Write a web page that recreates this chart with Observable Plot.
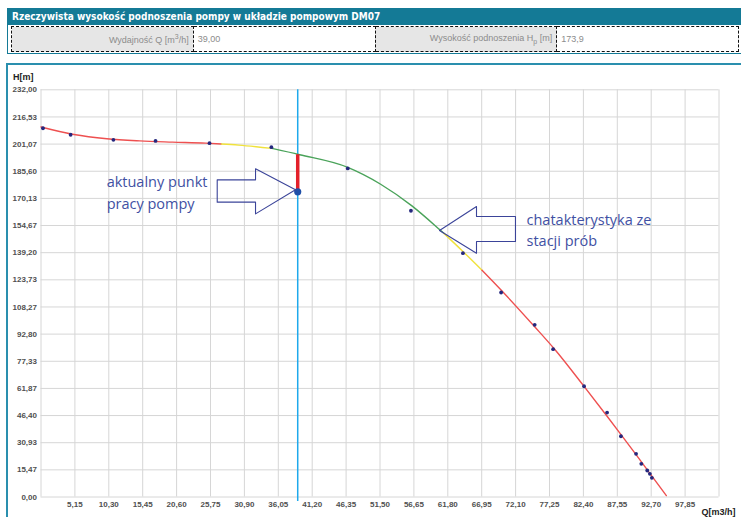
<!DOCTYPE html>
<html><head><meta charset="utf-8">
<script src="https://cdn.jsdelivr.net/npm/d3@7"></script>
<script src="https://cdn.jsdelivr.net/npm/@observablehq/plot@0.6"></script>
<style>
body{margin:0;width:741px;height:517px;overflow:hidden;background:#fff;position:relative;font-family:"Liberation Sans",Arial,sans-serif}
#bar{position:absolute;left:7px;top:8px;width:734px;height:17px;background:#147a96;color:#fff;font-weight:bold;font-size:10px;font-family:"Liberation Sans Narrow","DejaVu Sans Condensed","Liberation Sans",sans-serif;line-height:17px;padding-left:5px;box-sizing:border-box;white-space:nowrap}
#info{position:absolute;left:7px;top:25px;width:734px;height:29px;border-left:1px solid #147a96;border-bottom:1.5px solid #147a96;box-sizing:border-box}
#info table{position:absolute;left:3px;top:1px;width:728px;height:26px;border-collapse:collapse;table-layout:fixed}
#info td{border:1.5px dashed #111;font-size:9px;color:#8c8c8c;padding:0 4px;white-space:nowrap}
#info td.l{background:#e6e6e6;text-align:right}
#info sup,#info sub{font-size:7px}
#panel{position:absolute;left:6px;top:63px;width:745px;height:470px;border:2px solid #2a8fae;box-sizing:border-box}
#chart{position:absolute;left:0;top:64px}
</style></head>
<body>
<div id="bar">Rzeczywista wysokość podnoszenia pompy w układzie pompowym DM07</div>
<div id="info"><table><tr>
<td class="l">Wydajność Q [m<sup>3</sup>/h]</td><td>39,00</td>
<td class="l">Wysokość podnoszenia H<sub>p</sub> [m]</td><td>173,9</td>
</tr></table></div>
<div id="panel"></div>
<div id="chart"></div>
<script>
// tick labels
const xTickLabels = ["5,15","10,30","15,45","20,60","25,75","30,90","36,05","41,20","46,35","51,50","56,65","61,80","66,95","72,10","77,25","82,40","87,55","92,70","97,85"];
const yTickLabels = ["0,00","15,47","30,93","46,40","61,87","77,33","92,80","108,27","123,73","139,20","154,67","170,13","185,60","201,07","216,53","232,00"];
const xMax = 103;
const yMax = 232;

// measured points (Q [m3/h], H [m])
const measQ = [0.3,4.5,11.0,17.4,25.6,35.0,46.6,56.2,64.1,69.9,75.0,77.8,82.5,86.0,88.1,90.4,91.2,92.1,92.5,92.8];
const measH = [210.1,206.4,203.5,202.9,201.6,199.3,187.2,163.1,138.9,116.5,98.1,84.2,63.1,48.1,34.6,24.6,18.9,15.1,13.2,10.9];

// characteristic curve
const curveQ = [0,5,10,15,20,25,27.4,30,35.1,39.3,46.6,51.6,56.3,60.6,61.2,64.1,67,70,75,78,82.5,86,88,90.4,92.5,95];
const curveH = [210.8,206.5,204.1,202.9,202.2,201.6,201.1,200.5,198.6,195.0,187.8,178.2,166.0,152.2,150.2,139.9,129.2,117.5,97.0,84.3,63.0,46.0,36.1,24.1,13.5,0.8];
// colour bands along the curve
const bandFrom = [0,27.4,35.1,61.2,67];
const bandTo   = [27.4,35.1,61.2,67,95];
const bandColor = ["#ee5050","#f0e23c","#4aa35a","#f0e23c","#ee5050"];

// operating point
const opQ = 39.0, opH = 173.9, opCurveH = 195.0;

// annotations
const arrow1Q = [26.77,32.59,32.59,38.66,32.59,32.59,26.77,26.77];
const arrow1H = [180.7,180.7,187.0,175.0,161.3,168.0,168.0,180.7];
const arrow2Q = [60.54,66.16,66.16,72.08,72.08,66.16,66.16,60.54];
const arrow2H = [151.8,165.5,159.8,159.8,145.6,145.6,138.9,151.8];
const notes = [
  {q: 9.97, h: 179.3, t: "aktualny punkt"},
  {q: 9.97, h: 167.0, t: "pracy pompy"},
  {q: 73.76, h: 157.5, t: "chatakterystyka ze"},
  {q: 73.76, h: 145.7, t: "stacji prób"}
];

const num = s => +s.replace(",", ".");
const xTicks = xTickLabels.map(num);
const yTicks = yTickLabels.map(num);
const xLab = new Map(xTicks.map((v, i) => [v, xTickLabels[i]]));
const yLab = new Map(yTicks.map((v, i) => [v, yTickLabels[i]]));

const meas = measQ.map((q, i) => ({q, h: measH[i]}));
const curve = curveQ.map((q, i) => ({q, h: curveH[i]}));
const bands = bandFrom.map((a, i) => ({color: bandColor[i], pts: curve.filter(d => d.q >= a && d.q <= bandTo[i])}));
const arrow1 = arrow1Q.map((q, i) => ({q, h: arrow1H[i]}));
const arrow2 = arrow2Q.map((q, i) => ({q, h: arrow2H[i]}));

const chart = Plot.plot({
  width: 741, height: 453,
  marginLeft: 40.5, marginRight: 22.5, marginTop: 25.3, marginBottom: 20.5,
  style: {background: "transparent", fontFamily: "'Liberation Sans', Arial, sans-serif", fontSize: "8px", fontWeight: "bold", color: "#505050", overflow: "visible"},
  x: {domain: [0, xMax], ticks: xTicks, tickFormat: d => xLab.get(d), tickSize: 0, tickPadding: 4, label: null},
  y: {domain: [0, yMax], ticks: yTicks, tickFormat: d => yLab.get(d), tickSize: 0, tickPadding: 4, label: null},
  marks: [
    Plot.ruleY(yTicks, {x1: 0, x2: xMax, stroke: "#d6d6d6", strokeWidth: 1}),
    Plot.ruleX([0, ...xTicks, xMax], {y1: 0, y2: yMax, stroke: "#d6d6d6", strokeWidth: 1}),
    Plot.ruleX([opQ], {y1: -2.5, y2: yMax, stroke: "#1ea9ec", strokeWidth: 1.5}),
    ...bands.map(b => Plot.line(b.pts, {x: "q", y: "h", stroke: b.color, strokeWidth: 1.4, curve: "monotone-x"})),
    Plot.ruleX([opQ], {y1: opH, y2: opCurveH, stroke: "#e3202a", strokeWidth: 3.5}),
    Plot.dot(meas, {x: "q", y: "h", r: 1.9, fill: "#25287e", stroke: "none"}),
    Plot.dot([{q: opQ, h: opH}], {x: "q", y: "h", r: 3.6, fill: "#1f4fa8", stroke: "none"}),
    Plot.line(arrow1, {x: "q", y: "h", stroke: "#3b4499", strokeWidth: 1.1}),
    Plot.line(arrow2, {x: "q", y: "h", stroke: "#3b4499", strokeWidth: 1.1}),
    Plot.text(notes, {x: "q", y: "h", text: "t", textAnchor: "start", fill: "#4150a3", fontSize: 14.5, fontWeight: "normal", fontFamily: "'Open Sans', 'Noto Sans', sans-serif"}),
    Plot.text(["H[m]"], {frameAnchor: "top-left", dx: -28, dy: -16.3, textAnchor: "start", fill: "#222", fontSize: 9, fontWeight: "bold"}),
    Plot.text(["Q[m3/h]"], {frameAnchor: "bottom-right", dx: 16.5, dy: 17.5, textAnchor: "end", fill: "#222", fontSize: 9, fontWeight: "bold"})
  ]
});
document.getElementById("chart").appendChild(chart);
</script>
</body></html>
